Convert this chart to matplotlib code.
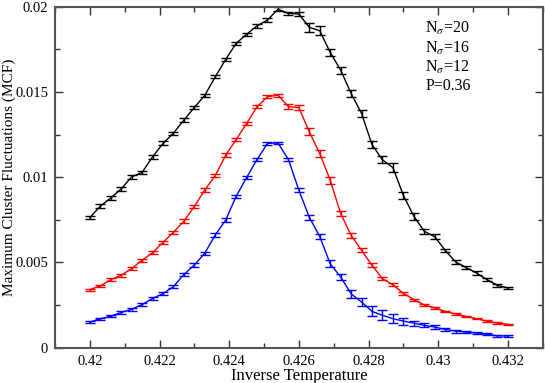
import numpy as np
import matplotlib
matplotlib.use('Agg')
import matplotlib.pyplot as plt
from matplotlib.ticker import MultipleLocator

plt.rcParams['font.family'] = ['Liberation Serif', 'DejaVu Serif']
plt.rcParams['mathtext.fontset'] = 'stix'

# inverse temperature grid (41 points, step 0.0003)
beta = [0.42 + 0.0003 * i for i in range(41)]

mcf_n20 = [0.00763, 0.00830, 0.00878, 0.00931, 0.01002, 0.01028, 0.01119, 0.01198,
           0.01258, 0.01335, 0.01409, 0.01480, 0.01589, 0.01691, 0.01785, 0.01838,
           0.01888, 0.01922, 0.01985, 0.01961, 0.01957, 0.01879, 0.01859, 0.01732,
           0.01628, 0.01491, 0.01374, 0.01191, 0.01102, 0.01056, 0.00894, 0.00771,
           0.00683, 0.00651, 0.00571, 0.00503, 0.00470, 0.00438, 0.00399, 0.00366,
           0.00350]
err_n20 = [0.00008, 0.0001, 0.0001, 0.0001, 0.0001, 0.0001, 0.00012, 0.00012,
           0.0001, 0.0001, 0.0001, 0.0001, 0.0001, 0.0001, 0.0001, 0.0001,
           0.0001, 0.0001, 0.00012, 0.0001, 0.00012, 0.00025, 0.00025, 0.0002,
           0.0002, 0.0002, 0.0002, 0.0002, 0.0002, 0.00025, 0.0002, 0.0002,
           0.00015, 0.00015, 0.0001, 0.0001, 0.0001, 0.0001, 0.0001, 0.00008,
           0.00006]

mcf_n16 = [0.00341, 0.00362, 0.00399, 0.00425, 0.00464, 0.00513, 0.00557, 0.00618,
           0.00677, 0.00742, 0.00828, 0.00925, 0.01009, 0.01129, 0.01221, 0.01315,
           0.01413, 0.01472, 0.01481, 0.01414, 0.01408, 0.01266, 0.01139, 0.00982,
           0.00787, 0.00659, 0.00571, 0.00483, 0.00405, 0.00369, 0.00319, 0.00282,
           0.00251, 0.00234, 0.00213, 0.00198, 0.00184, 0.00170, 0.00156, 0.00144,
           0.00137]
err_n16 = [0.00006, 0.00006, 0.00008, 0.00008, 0.0001, 0.0001, 0.0001, 0.0001,
           0.0001, 0.0001, 0.0001, 0.0001, 0.0001, 0.0001, 0.0001, 0.0001,
           0.0001, 0.00008, 0.00008, 0.00015, 0.00015, 0.0002, 0.0002, 0.0002,
           0.00015, 0.00015, 0.00012, 0.00012, 0.0001, 0.00008, 0.00008, 0.00006,
           0.00006, 0.00005, 0.00005, 0.00005, 0.00004, 0.00004, 0.00004, 0.00004,
           0.00004]

mcf_n12 = [0.00150, 0.00170, 0.00184, 0.00207, 0.00225, 0.00253, 0.00289, 0.00317,
           0.00358, 0.00429, 0.00485, 0.00554, 0.00661, 0.00749, 0.00888, 0.00998,
           0.01104, 0.01198, 0.01201, 0.01104, 0.00924, 0.00765, 0.00652, 0.00492,
           0.00415, 0.00316, 0.00268, 0.00213, 0.00190, 0.00170, 0.00156, 0.00144,
           0.00131, 0.00121, 0.00107, 0.00097, 0.00092, 0.00086, 0.00078, 0.00070,
           0.00068]
err_n12 = [0.00006, 0.00006, 0.00006, 0.00008, 0.00008, 0.00008, 0.0001, 0.0001,
           0.0001, 0.0001, 0.0001, 0.0001, 0.0001, 0.0001, 0.0001, 0.0001,
           0.0001, 0.00008, 0.00008, 0.0001, 0.00012, 0.00015, 0.00015, 0.0002,
           0.0002, 0.00025, 0.00025, 0.0003, 0.0003, 0.00025, 0.0002, 0.00015,
           0.00012, 0.0001, 0.0001, 0.00008, 0.00008, 0.00006, 0.00006, 0.00005,
           0.00005]

xticks = [0.42, 0.422, 0.424, 0.426, 0.428, 0.43, 0.432]
xtick_labels = ['0.42', '0.422', '0.424', '0.426', '0.428', '0.43', '0.432']
yticks = [0, 0.005, 0.01, 0.015, 0.02]
ytick_labels = ['0', '0.005', '0.01', '0.015', '0.02']
legend_lines = ['N$_{\\sigma}$=20', 'N$_{\\sigma}$=16', 'N$_{\\sigma}$=12', 'P=0.36']

fig = plt.figure(figsize=(5.45, 3.83), dpi=100)
ax = fig.add_axes([0.1009, 0.0922, 0.8949, 0.8903])

for y, e, c in [(mcf_n20, err_n20, 'black'), (mcf_n16, err_n16, 'red'), (mcf_n12, err_n12, 'blue')]:
    ax.errorbar(beta, y, yerr=e, color=c, lw=1.0, elinewidth=1.0,
                capsize=3.6, capthick=1.0)

ax.set_xlim(0.419, 0.433)
ax.set_ylim(0, 0.02)
ax.set_xticks(xticks)
ax.set_xticklabels(xtick_labels)
ax.set_yticks(yticks)
ax.set_yticklabels(ytick_labels)
ax.xaxis.set_minor_locator(MultipleLocator(0.001))
ax.yaxis.set_minor_locator(MultipleLocator(0.0025))
ax.tick_params(which='both', direction='in', top=True, right=True,
               labelsize=10.5, color='#333333', width=1.0)
ax.tick_params(which='major', length=6, pad=5)
ax.tick_params(which='minor', length=3.5)
for s in ax.spines.values():
    s.set_linewidth(1.5)
    s.set_color('#555555')

ax.set_xlabel('Inverse Temperature', fontsize=12, labelpad=0)
ax.set_ylabel('Maximum Cluster Fluctuations (MCF)', fontsize=11)
ax.yaxis.set_label_coords(-0.08, 0.5)

for k, t in enumerate(legend_lines):
    ax.text(0.759, 0.935 - k * 0.056, t, transform=ax.transAxes,
            fontsize=11.5, ha='left', va='center')

fig.savefig('out.png', dpi=100)
